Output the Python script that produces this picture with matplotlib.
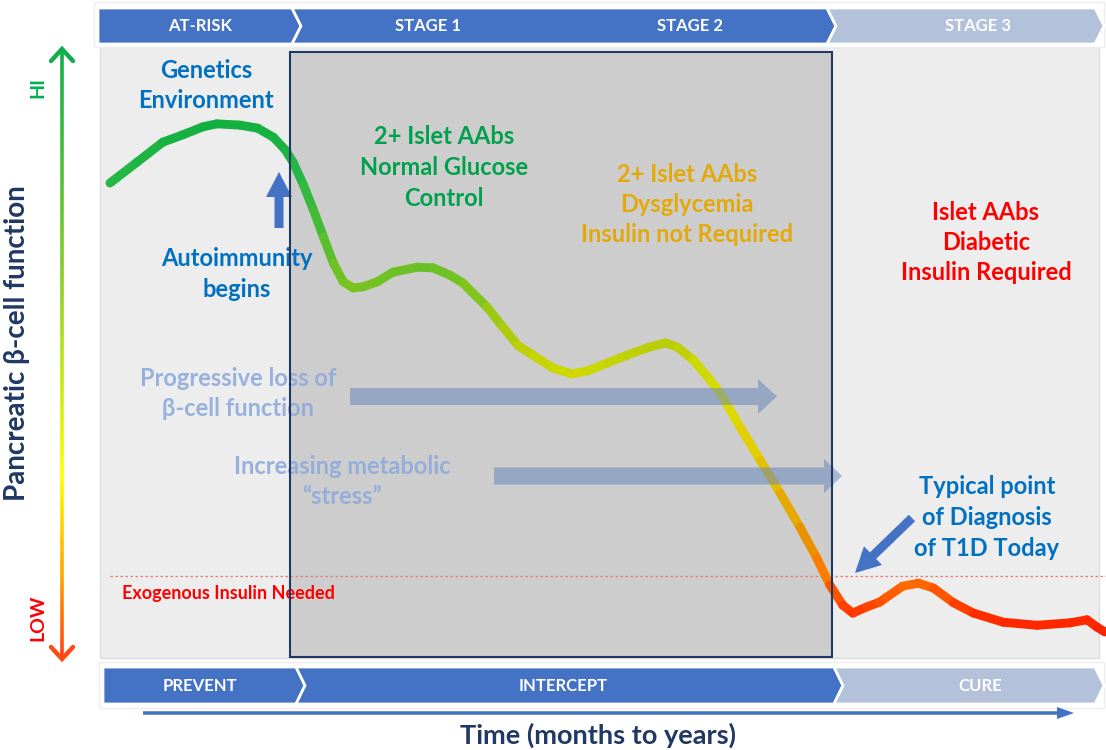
import numpy as np
import matplotlib
matplotlib.use("Agg")
import matplotlib.pyplot as plt
from matplotlib.patches import Polygon, Rectangle, FancyArrow
from matplotlib.collections import LineCollection
from matplotlib.colors import LinearSegmentedColormap

plt.rcParams['font.family'] = ['Lato', 'DejaVu Sans']

# ---- data -------------------------------------------------------------
# Beta-cell function over the course of disease (time: 0-100 % of the
# course, function: 0-100 % of the panel height)
time_pct = [0.7, 3.4, 6.0, 8.0, 10.0, 11.4, 13.7, 15.5, 17.1, 18.3, 19.1,
            20.1, 21.1, 22.1, 23.1, 24.1, 25.1, 26.1, 27.5, 29.1, 31.5,
            33.1, 34.8, 36.1, 38.5, 40.1, 41.6, 43.1, 45.1, 47.0, 48.6,
            50.6, 52.6, 54.6, 56.4, 57.6, 59.2, 60.9, 61.9, 63.9, 65.9,
            67.9, 69.9, 71.6, 72.9, 74.2, 75.2, 76.6, 77.9, 78.6, 80.2,
            81.8, 83.3, 85.3, 87.3, 90.3, 93.7, 97.0, 98.7, 99.7, 100.5]
function_pct = [77.7, 81.1, 84.4, 85.6, 86.9, 87.4, 87.2, 86.7, 85.2, 83.1,
                81.0, 77.4, 73.3, 68.9, 64.6, 61.5, 60.5, 60.7, 61.5, 63.1,
                63.9, 63.8, 62.6, 61.3, 57.4, 54.1, 51.1, 49.5, 47.4, 46.4,
                46.9, 48.2, 49.5, 50.7, 51.5, 50.8, 48.7, 45.4, 43.3, 37.7,
                32.3, 26.9, 21.3, 16.2, 11.8, 8.5, 7.2, 8.2, 9.0, 9.8, 11.6,
                12.1, 11.3, 8.9, 7.2, 5.7, 5.2, 5.6, 6.1, 4.9, 4.1]

stage_labels = ["AT-RISK", "STAGE 1", "STAGE 2", "STAGE 3"]
phase_labels = ["PREVENT", "INTERCEPT", "CURE"]

# ---- figure -----------------------------------------------------------
W, H = 1106, 750
fig = plt.figure(figsize=(W / 100, H / 100), dpi=100)
fig.patch.set_facecolor('white')
ax = fig.add_axes([0, 0, 1, 1])
ax.set_xlim(0, W)
ax.set_ylim(H, 0)
ax.axis('off')

BLUE = '#4472c4'
LIGHT = '#b4c1db'
TXT_BLUE = '#0070c0'
NAVY = '#1f3864'

# panel and intercept box
ax.add_patch(Rectangle((100, 47), 999, 611, fc='#ededed', ec='#dedede', lw=1, zorder=0))
ax.add_patch(Rectangle((290, 52), 542, 605, fc='#cdcdcd', ec='none', zorder=1))

# banner frames
ax.add_patch(Rectangle((94, 2), 1010, 45, fc='white', ec='#eeeeee', lw=1, zorder=0.5))
ax.add_patch(Rectangle((99, 662), 1005, 46, fc='white', ec='#eeeeee', lw=1, zorder=0.5))


def chevron(x0, x1, y0, y1, color, notch=True, depth=9):
    ym = (y0 + y1) / 2
    pts = [(x0, y0), (x1, y0), (x1 + depth, ym), (x1, y1), (x0, y1)]
    if notch:
        pts.append((x0 + depth, ym))
    ax.add_patch(Polygon(pts, closed=True, fc=color, ec='white', lw=2,
                         joinstyle='miter', zorder=2))


# top stage banner
chevron(98, 292, 8, 44, BLUE, notch=False)
chevron(292, 827, 8, 44, BLUE)
chevron(827, 1095, 8, 44, LIGHT)
for lab, xc in zip(stage_labels, [200, 428, 690, 978]):
    ax.text(xc, 26, lab, color='white', fontsize=12, fontweight='bold',
            ha='center', va='center', zorder=3)

# bottom phase banner
chevron(103, 296, 667, 704, BLUE, notch=False)
chevron(296, 834, 667, 704, BLUE)
chevron(834, 1095, 667, 704, LIGHT)
for lab, xc in zip(phase_labels, [200, 563, 980]):
    ax.text(xc, 686, lab, color='white', fontsize=12, fontweight='bold',
            ha='center', va='center', zorder=3)

# time arrow
ax.add_patch(FancyArrow(143, 713, 1074 - 143, 0, width=3.5, head_width=12,
                        head_length=17, length_includes_head=True,
                        fc=BLUE, ec='none', zorder=2))
ax.text(598, 735, "Time (months to years)", color=NAVY, fontsize=19.5,
        fontweight='bold', ha='center', va='center')

# vertical function axis with colour gradient
axis_cmap = LinearSegmentedColormap.from_list(
    'axis', [(0.0, '#12ad4c'), (0.35, '#84cc2a'), (0.7, '#ffff00'),
             (0.87, '#ffa000'), (1.0, '#ff3c14')])
ys = np.linspace(50, 658, 200)
segs = [[(62, a), (62, b)] for a, b in zip(ys[:-1], ys[1:])]
fr = (ys[:-1] - 50) / 608
ax.add_collection(LineCollection(segs, colors=axis_cmap(fr), linewidths=2.6,
                                 capstyle='butt', zorder=2))
ax.plot([51, 62, 73], [61, 49, 61], color='#12ad4c', lw=3.2,
        solid_capstyle='round', solid_joinstyle='miter', zorder=2)
ax.plot([51, 62, 73], [647, 659, 647], color='#ff4a14', lw=3.2,
        solid_capstyle='round', solid_joinstyle='miter', zorder=2)
ax.text(38, 88, "HI", color='#00b050', fontsize=14, fontweight='bold',
        rotation=90, ha='center', va='center')
ax.text(38, 618, "LOW", color='#ff0000', fontsize=14, fontweight='bold',
        rotation=90, ha='center', va='center')
ax.text(17, 343, "Pancreatic \u03b2-cell function", color=NAVY, fontsize=20,
        fontweight='bold', rotation=90, ha='center', va='center')

# insulin threshold
ax.plot([110, 1106], [576, 576], color='#f07878', lw=0.9, ls=(0, (2, 2)), zorder=3)
ax.text(122, 594, "Exogenous Insulin Needed", color='#ff0000', fontsize=13,
        fontweight='bold', ha='left', va='center', zorder=3)


def block(target, xc, y_first, lines, color, size=17, step=30.5, z=4, alpha=1.0, tr=None):
    for i, s in enumerate(lines):
        target.text(xc, y_first + i * step, s, color=color, fontsize=size,
                    fontweight='bold', ha='center', va='center', zorder=z,
                    alpha=alpha, transform=tr if tr is not None else target.transData,
                    clip_on=False)


block(ax, 206, 70, ["Genetics", "Environment"], TXT_BLUE)
block(ax, 237, 259, ["Autoimmunity", "begins"], TXT_BLUE)
block(ax, 444, 137, ["2+ Islet AAbs", "Normal Glucose", "Control"], '#00a04c')
block(ax, 687, 174, ["2+ Islet AAbs", "Dysglycemia", "Insulin not Required"], '#e3a90a')
block(ax, 986, 212, ["Islet AAbs", "Diabetic", "Insulin Required"], '#ff0000')
block(ax, 987, 487, ["Typical point", "of Diagnosis", "of T1D Today"], TXT_BLUE)

# autoimmunity arrow
ax.add_patch(FancyArrow(279, 228, 0, 172 - 228, width=9, head_width=26,
                        head_length=25, length_includes_head=True,
                        fc=BLUE, ec='none', zorder=4))
# diagnosis arrow
ax.add_patch(FancyArrow(912, 518, 855 - 912, 573 - 518, width=9, head_width=26,
                        head_length=25, length_includes_head=True,
                        fc=BLUE, ec='none', zorder=4))

# ---- beta-cell curve --------------------------------------------------
cax = fig.add_axes([100 / W, (H - 657) / H, 1000 / W, 610 / H])
cax.set_xlim(-0.3, 100)
cax.set_ylim(0, 100)
cax.axis('off')
cax.patch.set_alpha(0)

curve_cmap = LinearSegmentedColormap.from_list(
    'curve', [(0.00, '#ff1400'), (0.06, '#ff2a00'), (0.09, '#ff4a00'),
              (0.13, '#ff7a00'), (0.17, '#ea8a00'), (0.27, '#e2b800'),
              (0.38, '#e0d800'), (0.46, '#d2da00'), (0.52, '#b4cc0a'),
              (0.60, '#7cc41e'), (0.73, '#3cb83a'), (0.78, '#28b846'),
              (0.88, '#12b040'), (1.00, '#12b040')])
pts = np.column_stack([time_pct, function_pct])
segs = np.stack([pts[:-1], pts[1:]], axis=1)
mid = (pts[:-1, 1] + pts[1:, 1]) / 200
cax.add_collection(LineCollection(segs, colors=curve_cmap(mid), linewidths=6.4,
                                  capstyle='round', joinstyle='round',
                                  zorder=2, clip_on=False))

# translucent overlays above the curve
for x0, x1, yc, hw, hl in [(350, 777, 396.5, 35, 19), (494, 842, 476, 34, 18)]:
    cax.add_patch(FancyArrow(x0, yc, x1 - x0, 0, width=17, head_width=hw,
                             head_length=hl, length_includes_head=True,
                             fc='#6a88bd', ec='none', alpha=0.55, zorder=3,
                             transform=ax.transData, clip_on=False))

block(cax, 238, 378, ["Progressive loss of", "\u03b2-cell function"], '#8eaadb',
      z=4, alpha=0.9, tr=ax.transData)
block(cax, 342, 466, ["Increasing metabolic", "\u201cstress\u201d"], '#8eaadb',
      z=4, alpha=0.9, tr=ax.transData)

# intercept box outline on top
cax.add_patch(Rectangle((290, 52), 542, 605, fc='none', ec=NAVY, lw=1.5,
                        zorder=5, transform=ax.transData, clip_on=False))

fig.savefig('out.png', dpi=100, facecolor='white')
